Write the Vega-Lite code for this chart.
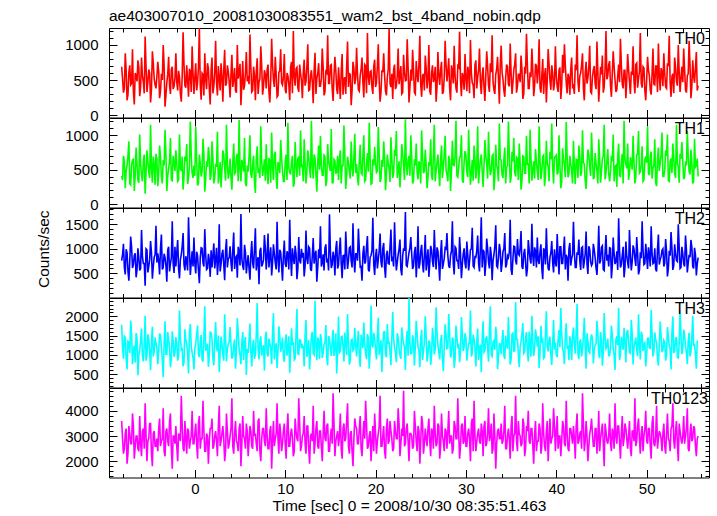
{
"$schema": "https://vega.github.io/schema/vega-lite/v6.json",
"background": "white",
"padding": {"left": 35, "top": 8, "right": 8, "bottom": 2},
"spacing": 0,
"bounds": "flush",
"config": {
  "view": {"stroke": "#000", "strokeWidth": 1},
  "font": "Liberation Sans",
  "concat": {"spacing": 0},
  "axis": {"domain": false, "grid": false, "ticks": true, "tickColor": "#000", "tickWidth": 1, "labelColor": "#000", "labelFont": "Liberation Sans", "labelFontSize": 15, "titleFont": "Liberation Sans", "titleFontSize": 15.5, "titleFontWeight": "normal", "titleColor": "#000", "labelOverlap": false, "labelFlush": false}
},
"datasets": {"lc": [
{"t":-8.1,"th0":690,"th1":410,"th2":760,"th3":1780,"th0123":3600},
{"t":-7.9,"th0":320,"th1":700,"th2":1100,"th3":900,"th0123":2300},
{"t":-7.7,"th0":880,"th1":230,"th2":480,"th3":1450,"th0123":3100},
{"t":-7.5,"th0":210,"th1":560,"th2":920,"th3":620,"th0123":1900},
{"t":-7.3,"th0":610,"th1":910,"th2":350,"th3":1320,"th0123":3400},
{"t":-7.1,"th0":430,"th1":280,"th2":1250,"th3":1890,"th0123":2700},
{"t":-6.9,"th0":940,"th1":640,"th2":610,"th3":760,"th0123":3900},
{"t":-6.7,"th0":150,"th1":190,"th2":870,"th3":1240,"th0123":2100},
{"t":-6.5,"th0":560,"th1":820,"th2":420,"th3":1560,"th0123":3000},
{"t":-6.3,"th0":780,"th1":350,"th2":1010,"th3":470,"th0123":2500},
{"t":-6.1,"th0":270,"th1":1010,"th2":560,"th3":1120,"th0123":3800},
{"t":-5.9,"th0":820,"th1":420,"th2":1380,"th3":1680,"th0123":2200},
{"t":-5.7,"th0":470,"th1":620,"th2":700,"th3":830,"th0123":3300},
{"t":-5.5,"th0":1120,"th1":150,"th2":250,"th3":2010,"th0123":4300},
{"t":-5.3,"th0":330,"th1":780,"th2":980,"th3":990,"th0123":2000},
{"t":-5.1,"th0":650,"th1":470,"th2":640,"th3":1400,"th0123":2900},
{"t":-4.9,"th0":180,"th1":1150,"th2":1160,"th3":600,"th0123":3500},
{"t":-4.7,"th0":910,"th1":310,"th2":390,"th3":1730,"th0123":1800},
{"t":-4.5,"th0":520,"th1":560,"th2":830,"th3":1080,"th0123":3200},
{"t":-4.3,"th0":380,"th1":730,"th2":1470,"th3":1300,"th0123":2600},
{"t":-4.1,"th0":760,"th1":260,"th2":910,"th3":760,"th0123":2400},
{"t":-3.9,"th0":240,"th1":850,"th2":480,"th3":1550,"th0123":3700},
{"t":-3.7,"th0":590,"th1":400,"th2":1290,"th3":1190,"th0123":2800},
{"t":-3.5,"th0":1000,"th1":640,"th2":620,"th3":420,"th0123":4100},
{"t":-3.3,"th0":120,"th1":1080,"th2":820,"th3":1870,"th0123":2200},
{"t":-3.1,"th0":470,"th1":190,"th2":330,"th3":1020,"th0123":3300},
{"t":-2.9,"th0":830,"th1":520,"th2":1040,"th3":1390,"th0123":2600},
{"t":-2.7,"th0":300,"th1":960,"th2":700,"th3":680,"th0123":3900},
{"t":-2.5,"th0":690,"th1":340,"th2":1560,"th3":1610,"th0123":1700},
{"t":-2.3,"th0":410,"th1":600,"th2":510,"th3":950,"th0123":3000},
{"t":-2.1,"th0":880,"th1":780,"th2":640,"th3":1460,"th0123":3400},
{"t":-1.9,"th0":350,"th1":330,"th2":1180,"th3":850,"th0123":2000},
{"t":-1.7,"th0":540,"th1":1010,"th2":400,"th3":2150,"th0123":3000},
{"t":-1.5,"th0":190,"th1":480,"th2":880,"th3":1130,"th0123":4600},
{"t":-1.3,"th0":1180,"th1":210,"th2":1320,"th3":700,"th0123":2500},
{"t":-1.1,"th0":420,"th1":690,"th2":560,"th3":1660,"th0123":3600},
{"t":-0.9,"th0":710,"th1":870,"th2":740,"th3":1280,"th0123":2300},
{"t":-0.7,"th0":260,"th1":380,"th2":1640,"th3":520,"th0123":3200},
{"t":-0.5,"th0":620,"th1":1200,"th2":470,"th3":1800,"th0123":2800},
{"t":-0.3,"th0":980,"th1":450,"th2":950,"th3":1050,"th0123":4000},
{"t":-0.1,"th0":300,"th1":560,"th2":1230,"th3":620,"th0123":2700},
{"t":0.1,"th0":740,"th1":1120,"th2":500,"th3":1300,"th0123":3500},
{"t":0.3,"th0":460,"th1":270,"th2":860,"th3":1760,"th0123":2100},
{"t":0.5,"th0":1240,"th1":720,"th2":300,"th3":940,"th0123":3800},
{"t":0.7,"th0":220,"th1":400,"th2":1020,"th3":1520,"th0123":2900},
{"t":0.9,"th0":580,"th1":950,"th2":720,"th3":820,"th0123":4400},
{"t":1.1,"th0":880,"th1":180,"th2":1400,"th3":2260,"th0123":2400},
{"t":1.3,"th0":370,"th1":620,"th2":580,"th3":1170,"th0123":3100},
{"t":1.5,"th0":660,"th1":830,"th2":900,"th3":690,"th0123":1900},
{"t":1.7,"th0":150,"th1":350,"th2":430,"th3":1590,"th0123":3300},
{"t":1.9,"th0":820,"th1":910,"th2":620,"th3":1400,"th0123":3700},
{"t":2.1,"th0":410,"th1":300,"th2":1110,"th3":730,"th0123":2600},
{"t":2.3,"th0":1060,"th1":590,"th2":780,"th3":1850,"th0123":3200},
{"t":2.5,"th0":280,"th1":1050,"th2":470,"th3":1090,"th0123":2200},
{"t":2.7,"th0":530,"th1":430,"th2":1500,"th3":560,"th0123":4200},
{"t":2.9,"th0":740,"th1":240,"th2":690,"th3":1470,"th0123":2800},
{"t":3.1,"th0":190,"th1":780,"th2":980,"th3":1000,"th0123":3400},
{"t":3.3,"th0":930,"th1":520,"th2":360,"th3":2050,"th0123":2000},
{"t":3.5,"th0":450,"th1":1150,"th2":1200,"th3":830,"th0123":3900},
{"t":3.7,"th0":620,"th1":370,"th2":800,"th3":1280,"th0123":2500},
{"t":3.9,"th0":250,"th1":660,"th2":1050,"th3":1720,"th0123":3000},
{"t":4.1,"th0":860,"th1":210,"th2":540,"th3":900,"th0123":4500},
{"t":4.3,"th0":510,"th1":880,"th2":1330,"th3":1250,"th0123":2300},
{"t":4.5,"th0":350,"th1":460,"th2":820,"th3":640,"th0123":3600},
{"t":4.7,"th0":1000,"th1":730,"th2":410,"th3":1950,"th0123":2700},
{"t":4.9,"th0":600,"th1":1220,"th2":940,"th3":1150,"th0123":3300},
{"t":5.1,"th0":140,"th1":330,"th2":1710,"th3":760,"th0123":1800},
{"t":5.3,"th0":770,"th1":590,"th2":650,"th3":1590,"th0123":3800},
{"t":5.5,"th0":420,"th1":960,"th2":1080,"th3":1340,"th0123":2900},
{"t":5.7,"th0":900,"th1":260,"th2":500,"th3":480,"th0123":3500},
{"t":5.9,"th0":560,"th1":470,"th2":870,"th3":1050,"th0123":2200},
{"t":6.1,"th0":1150,"th1":1000,"th2":370,"th3":1810,"th0123":3400},
{"t":6.3,"th0":330,"th1":380,"th2":1160,"th3":700,"th0123":2600},
{"t":6.5,"th0":690,"th1":700,"th2":600,"th3":1390,"th0123":4000},
{"t":6.7,"th0":210,"th1":160,"th2":1420,"th3":1010,"th0123":3100},
{"t":6.9,"th0":810,"th1":840,"th2":760,"th3":2340,"th0123":2400},
{"t":7.1,"th0":470,"th1":520,"th2":280,"th3":880,"th0123":3700},
{"t":7.3,"th0":980,"th1":1130,"th2":1020,"th3":1480,"th0123":2000},
{"t":7.5,"th0":290,"th1":410,"th2":690,"th3":1170,"th0123":3300},
{"t":7.7,"th0":640,"th1":650,"th2":1280,"th3":590,"th0123":2800},
{"t":7.9,"th0":380,"th1":870,"th2":580,"th3":1600,"th0123":4100},
{"t":8.1,"th0":720,"th1":290,"th2":1310,"th3":960,"th0123":2500},
{"t":8.3,"th0":180,"th1":620,"th2":840,"th3":1300,"th0123":3200},
{"t":8.5,"th0":1090,"th1":1040,"th2":460,"th3":760,"th0123":1700},
{"t":8.7,"th0":500,"th1":350,"th2":1090,"th3":2080,"th0123":3600},
{"t":8.9,"th0":830,"th1":760,"th2":720,"th3":1200,"th0123":2900},
{"t":9.1,"th0":260,"th1":220,"th2":1550,"th3":660,"th0123":4300},
{"t":9.3,"th0":610,"th1":570,"th2":520,"th3":1740,"th0123":2300},
{"t":9.5,"th0":940,"th1":930,"th2":930,"th3":1080,"th0123":3100},
{"t":9.7,"th0":430,"th1":480,"th2":350,"th3":1450,"th0123":2700},
{"t":9.9,"th0":870,"th1":330,"th2":1170,"th3":820,"th0123":3500},
{"t":10.1,"th0":310,"th1":720,"th2":630,"th3":1530,"th0123":2100},
{"t":10.3,"th0":560,"th1":1180,"th2":890,"th3":1170,"th0123":3900},
{"t":10.5,"th0":210,"th1":450,"th2":1590,"th3":540,"th0123":2600},
{"t":10.7,"th0":760,"th1":610,"th2":450,"th3":1690,"th0123":3300},
{"t":10.9,"th0":1200,"th1":250,"th2":810,"th3":1330,"th0123":2200},
{"t":11.1,"th0":420,"th1":900,"th2":1060,"th3":900,"th0123":3700},
{"t":11.3,"th0":680,"th1":390,"th2":380,"th3":2190,"th0123":2900},
{"t":11.5,"th0":330,"th1":690,"th2":1240,"th3":1010,"th0123":4500},
{"t":11.7,"th0":590,"th1":1070,"th2":700,"th3":1380,"th0123":2400},
{"t":11.9,"th0":240,"th1":560,"th2":820,"th3":1250,"th0123":3000},
{"t":12.1,"th0":790,"th1":940,"th2":440,"th3":700,"th0123":3800},
{"t":12.3,"th0":480,"th1":300,"th2":1370,"th3":1900,"th0123":2300},
{"t":12.5,"th0":1010,"th1":780,"th2":690,"th3":1120,"th0123":3400},
{"t":12.7,"th0":360,"th1":500,"th2":1010,"th3":620,"th0123":1900},
{"t":12.9,"th0":640,"th1":1210,"th2":550,"th3":1480,"th0123":3100},
{"t":13.1,"th0":170,"th1":370,"th2":1220,"th3":1040,"th0123":4200},
{"t":13.3,"th0":890,"th1":660,"th2":880,"th3":2400,"th0123":2700},
{"t":13.5,"th0":520,"th1":180,"th2":330,"th3":860,"th0123":3600},
{"t":13.7,"th0":740,"th1":850,"th2":990,"th3":1350,"th0123":2500},
{"t":13.9,"th0":410,"th1":990,"th2":1460,"th3":1540,"th0123":3200},
{"t":14.1,"th0":950,"th1":420,"th2":720,"th3":920,"th0123":2000},
{"t":14.3,"th0":280,"th1":710,"th2":560,"th3":1270,"th0123":4000},
{"t":14.5,"th0":620,"th1":260,"th2":1090,"th3":1770,"th0123":2800},
{"t":14.7,"th0":1140,"th1":870,"th2":800,"th3":730,"th0123":3500},
{"t":14.9,"th0":450,"th1":540,"th2":1700,"th3":1410,"th0123":2400},
{"t":15.1,"th0":720,"th1":1090,"th2":610,"th3":970,"th0123":3300},
{"t":15.3,"th0":200,"th1":310,"th2":940,"th3":1650,"th0123":4700},
{"t":15.5,"th0":830,"th1":630,"th2":460,"th3":1180,"th0123":2200},
{"t":15.7,"th0":370,"th1":470,"th2":1160,"th3":520,"th0123":3000},
{"t":15.9,"th0":680,"th1":350,"th2":670,"th3":1990,"th0123":2600},
{"t":16.1,"th0":230,"th1":780,"th2":1230,"th3":1100,"th0123":3900},
{"t":16.3,"th0":870,"th1":560,"th2":400,"th3":1480,"th0123":2100},
{"t":16.5,"th0":510,"th1":1140,"th2":870,"th3":830,"th0123":3500},
{"t":16.7,"th0":300,"th1":220,"th2":1350,"th3":1260,"th0123":2900},
{"t":16.9,"th0":1050,"th1":690,"th2":590,"th3":2060,"th0123":4300},
{"t":17.1,"th0":590,"th1":470,"th2":1020,"th3":750,"th0123":2300},
{"t":17.3,"th0":140,"th1":910,"th2":760,"th3":1380,"th0123":3200},
{"t":17.5,"th0":760,"th1":400,"th2":1520,"th3":1110,"th0123":1800},
{"t":17.7,"th0":440,"th1":1020,"th2":520,"th3":1700,"th0123":3700},
{"t":17.9,"th0":960,"th1":580,"th2":900,"th3":960,"th0123":3300},
{"t":18.1,"th0":360,"th1":270,"th2":1410,"th3":1620,"th0123":2700},
{"t":18.3,"th0":570,"th1":860,"th2":630,"th3":690,"th0123":3800},
{"t":18.5,"th0":820,"th1":430,"th2":350,"th3":1350,"th0123":2200},
{"t":18.7,"th0":250,"th1":1000,"th2":1060,"th3":1840,"th0123":3600},
{"t":18.9,"th0":700,"th1":350,"th2":740,"th3":1030,"th0123":4400},
{"t":19.1,"th0":1170,"th1":740,"th2":1260,"th3":1540,"th0123":2500},
{"t":19.3,"th0":430,"th1":1180,"th2":540,"th3":640,"th0123":3000},
{"t":19.5,"th0":630,"th1":290,"th2":870,"th3":2280,"th0123":2000},
{"t":19.7,"th0":300,"th1":650,"th2":1630,"th3":1190,"th0123":3400},
{"t":19.9,"th0":790,"th1":830,"th2":470,"th3":1440,"th0123":3900},
{"t":20.1,"th0":460,"th1":460,"th2":1000,"th3":880,"th0123":2300},
{"t":20.3,"th0":1010,"th1":1120,"th2":780,"th3":1960,"th0123":3100},
{"t":20.5,"th0":190,"th1":320,"th2":1310,"th3":1170,"th0123":4600},
{"t":20.7,"th0":640,"th1":640,"th2":620,"th3":560,"th0123":2600},
{"t":20.9,"th0":880,"th1":910,"th2":1120,"th3":1590,"th0123":3400},
{"t":21.1,"th0":340,"th1":200,"th2":410,"th3":1010,"th0123":2100},
{"t":21.3,"th0":540,"th1":720,"th2":960,"th3":1800,"th0123":3700},
{"t":21.5,"th0":1230,"th1":510,"th2":690,"th3":1320,"th0123":2800},
{"t":21.7,"th0":400,"th1":970,"th2":1390,"th3":730,"th0123":3200},
{"t":21.9,"th0":230,"th1":380,"th2":810,"th3":2110,"th0123":2400},
{"t":22.1,"th0":720,"th1":790,"th2":1540,"th3":1190,"th0123":3600},
{"t":22.3,"th0":410,"th1":1060,"th2":560,"th3":810,"th0123":2900},
{"t":22.5,"th0":950,"th1":480,"th2":880,"th3":1450,"th0123":4100},
{"t":22.7,"th0":560,"th1":240,"th2":1190,"th3":990,"th0123":2200},
{"t":22.9,"th0":300,"th1":870,"th2":460,"th3":1710,"th0123":3300},
{"t":23.1,"th0":860,"th1":560,"th2":1010,"th3":1280,"th0123":4800},
{"t":23.3,"th0":490,"th1":1230,"th2":1750,"th3":610,"th0123":2700},
{"t":23.5,"th0":1080,"th1":420,"th2":640,"th3":1620,"th0123":3500},
{"t":23.7,"th0":180,"th1":700,"th2":920,"th3":2470,"th0123":2000},
{"t":23.9,"th0":650,"th1":1000,"th2":1240,"th3":1030,"th0123":3100},
{"t":24.1,"th0":930,"th1":300,"th2":590,"th3":1510,"th0123":2500},
{"t":24.3,"th0":320,"th1":650,"th2":930,"th3":720,"th0123":4000},
{"t":24.5,"th0":770,"th1":880,"th2":420,"th3":1880,"th0123":2800},
{"t":24.7,"th0":470,"th1":360,"th2":1460,"th3":1220,"th0123":3400},
{"t":24.9,"th0":1130,"th1":580,"th2":700,"th3":680,"th0123":1900},
{"t":25.1,"th0":260,"th1":1070,"th2":1080,"th3":1650,"th0123":3800},
{"t":25.3,"th0":590,"th1":450,"th2":520,"th3":1090,"th0123":2300},
{"t":25.5,"th0":850,"th1":790,"th2":1280,"th3":2000,"th0123":3300},
{"t":25.7,"th0":380,"th1":230,"th2":760,"th3":830,"th0123":2600},
{"t":25.9,"th0":1000,"th1":610,"th2":430,"th3":1370,"th0123":3700},
{"t":26.1,"th0":290,"th1":940,"th2":1060,"th3":740,"th0123":2200},
{"t":26.3,"th0":710,"th1":350,"th2":740,"th3":1700,"th0123":3200},
{"t":26.5,"th0":520,"th1":1150,"th2":1380,"th3":1010,"th0123":4200},
{"t":26.7,"th0":190,"th1":480,"th2":580,"th3":2230,"th0123":2600},
{"t":26.9,"th0":900,"th1":720,"th2":960,"th3":1260,"th0123":3500},
{"t":27.1,"th0":430,"th1":260,"th2":350,"th3":880,"th0123":2100},
{"t":27.3,"th0":760,"th1":850,"th2":1180,"th3":1520,"th0123":3900},
{"t":27.5,"th0":330,"th1":540,"th2":690,"th3":580,"th0123":2800},
{"t":27.7,"th0":1060,"th1":990,"th2":1020,"th3":1790,"th0123":3300},
{"t":27.9,"th0":480,"th1":420,"th2":1320,"th3":1160,"th0123":2500},
{"t":28.1,"th0":810,"th1":700,"th2":650,"th3":2060,"th0123":4000},
{"t":28.3,"th0":210,"th1":190,"th2":870,"th3":930,"th0123":3000},
{"t":28.5,"th0":630,"th1":920,"th2":1560,"th3":1450,"th0123":2300},
{"t":28.7,"th0":990,"th1":560,"th2":480,"th3":670,"th0123":3600},
{"t":28.9,"th0":380,"th1":1210,"th2":1010,"th3":1760,"th0123":2900},
{"t":29.1,"th0":700,"th1":390,"th2":760,"th3":1210,"th0123":4500},
{"t":29.3,"th0":1190,"th1":680,"th2":1240,"th3":810,"th0123":2100},
{"t":29.5,"th0":270,"th1":1000,"th2":400,"th3":1980,"th0123":3400},
{"t":29.7,"th0":550,"th1":310,"th2":890,"th3":1100,"th0123":2700},
{"t":29.9,"th0":870,"th1":770,"th2":710,"th3":1560,"th0123":3800},
{"t":30.1,"th0":340,"th1":470,"th2":1150,"th3":850,"th0123":2600},
{"t":30.3,"th0":620,"th1":1080,"th2":560,"th3":1300,"th0123":3300},
{"t":30.5,"th0":1070,"th1":280,"th2":980,"th3":2150,"th0123":2000},
{"t":30.7,"th0":460,"th1":640,"th2":1430,"th3":1040,"th0123":3700},
{"t":30.9,"th0":240,"th1":850,"th2":620,"th3":1410,"th0123":4400},
{"t":31.1,"th0":780,"th1":370,"th2":830,"th3":700,"th0123":2400},
{"t":31.3,"th0":540,"th1":1130,"th2":1270,"th3":1680,"th0123":3100},
{"t":31.5,"th0":950,"th1":500,"th2":540,"th3":1170,"th0123":2800},
{"t":31.7,"th0":300,"th1":720,"th2":1640,"th3":550,"th0123":3500},
{"t":31.9,"th0":680,"th1":250,"th2":980,"th3":1870,"th0123":2200},
{"t":32.1,"th0":200,"th1":930,"th2":450,"th3":1110,"th0123":3600},
{"t":32.3,"th0":910,"th1":590,"th2":1210,"th3":1480,"th0123":2700},
{"t":32.5,"th0":420,"th1":1050,"th2":730,"th3":820,"th0123":4100},
{"t":32.7,"th0":740,"th1":420,"th2":1040,"th3":2260,"th0123":3000},
{"t":32.9,"th0":1140,"th1":700,"th2":360,"th3":960,"th0123":2300},
{"t":33.1,"th0":360,"th1":200,"th2":880,"th3":1370,"th0123":3900},
{"t":33.3,"th0":580,"th1":860,"th2":1480,"th3":1730,"th0123":1700},
{"t":33.5,"th0":830,"th1":490,"th2":620,"th3":630,"th0123":3200},
{"t":33.7,"th0":160,"th1":1170,"th2":1100,"th3":1290,"th0123":2900},
{"t":33.9,"th0":990,"th1":640,"th2":530,"th3":1020,"th0123":3500},
{"t":34.1,"th0":510,"th1":380,"th2":940,"th3":1640,"th0123":2800},
{"t":34.3,"th0":260,"th1":820,"th2":1320,"th3":890,"th0123":4200},
{"t":34.5,"th0":720,"th1":530,"th2":680,"th3":1250,"th0123":2500},
{"t":34.7,"th0":440,"th1":1200,"th2":820,"th3":1980,"th0123":3300},
{"t":34.9,"th0":1020,"th1":310,"th2":1590,"th3":750,"th0123":2100},
{"t":35.1,"th0":300,"th1":760,"th2":470,"th3":1530,"th0123":3800},
{"t":35.3,"th0":650,"th1":960,"th2":1050,"th3":1100,"th0123":3000},
{"t":35.5,"th0":880,"th1":400,"th2":760,"th3":2370,"th0123":4600},
{"t":35.7,"th0":410,"th1":660,"th2":1200,"th3":1400,"th0123":2400},
{"t":35.9,"th0":580,"th1":880,"th2":870,"th3":680,"th0123":3100},
{"t":36.1,"th0":850,"th1":210,"th2":1360,"th3":1350,"th0123":2600},
{"t":36.3,"th0":230,"th1":700,"th2":590,"th3":1820,"th0123":3700},
{"t":36.5,"th0":690,"th1":450,"th2":1000,"th3":1080,"th0123":2200},
{"t":36.7,"th0":1160,"th1":990,"th2":440,"th3":1590,"th0123":3400},
{"t":36.9,"th0":380,"th1":580,"th2":1180,"th3":830,"th0123":4000},
{"t":37.1,"th0":610,"th1":1080,"th2":790,"th3":1290,"th0123":2700},
{"t":37.3,"th0":950,"th1":340,"th2":1510,"th3":2010,"th0123":3300},
{"t":37.5,"th0":270,"th1":620,"th2":650,"th3":970,"th0123":1900},
{"t":37.7,"th0":730,"th1":800,"th2":960,"th3":1660,"th0123":3600},
{"t":37.9,"th0":450,"th1":470,"th2":1230,"th3":1210,"th0123":2800},
{"t":38.1,"th0":1080,"th1":1130,"th2":690,"th3":660,"th0123":3500},
{"t":38.3,"th0":320,"th1":360,"th2":1090,"th3":1750,"th0123":2300},
{"t":38.5,"th0":800,"th1":690,"th2":380,"th3":1390,"th0123":4300},
{"t":38.7,"th0":560,"th1":260,"th2":960,"th3":940,"th0123":2600},
{"t":38.9,"th0":180,"th1":920,"th2":1420,"th3":2130,"th0123":3200},
{"t":39.1,"th0":940,"th1":540,"th2":600,"th3":1090,"th0123":2000},
{"t":39.3,"th0":490,"th1":760,"th2":830,"th3":1470,"th0123":3700},
{"t":39.5,"th0":710,"th1":1170,"th2":1160,"th3":740,"th0123":2900},
{"t":39.7,"th0":350,"th1":300,"th2":520,"th3":1900,"th0123":4100},
{"t":39.9,"th0":980,"th1":690,"th2":720,"th3":1320,"th0123":2400},
{"t":40.1,"th0":400,"th1":430,"th2":1300,"th3":940,"th0123":3800},
{"t":40.3,"th0":640,"th1":1000,"th2":480,"th3":1640,"th0123":3000},
{"t":40.5,"th0":230,"th1":230,"th2":1040,"th3":2210,"th0123":2200},
{"t":40.7,"th0":860,"th1":810,"th2":700,"th3":1150,"th0123":3600},
{"t":40.9,"th0":1010,"th1":570,"th2":1250,"th3":760,"th0123":2700},
{"t":41.1,"th0":470,"th1":1190,"th2":880,"th3":1820,"th0123":4400},
{"t":41.3,"th0":590,"th1":390,"th2":350,"th3":1240,"th0123":2500},
{"t":41.5,"th0":290,"th1":700,"th2":1120,"th3":1480,"th0123":3300},
{"t":41.7,"th0":820,"th1":480,"th2":800,"th3":860,"th0123":3000},
{"t":41.9,"th0":420,"th1":920,"th2":1550,"th3":1710,"th0123":3400},
{"t":42.1,"th0":720,"th1":290,"th2":620,"th3":1030,"th0123":2100},
{"t":42.3,"th0":1140,"th1":640,"th2":930,"th3":2320,"th0123":3900},
{"t":42.5,"th0":330,"th1":850,"th2":1190,"th3":890,"th0123":2800},
{"t":42.7,"th0":600,"th1":410,"th2":570,"th3":1400,"th0123":3200},
{"t":42.9,"th0":880,"th1":1070,"th2":1040,"th3":1120,"th0123":4700},
{"t":43.1,"th0":210,"th1":580,"th2":740,"th3":1960,"th0123":2400},
{"t":43.3,"th0":760,"th1":220,"th2":1350,"th3":640,"th0123":3600},
{"t":43.5,"th0":530,"th1":790,"th2":490,"th3":1350,"th0123":2000},
{"t":43.7,"th0":990,"th1":540,"th2":990,"th3":1050,"th0123":3100},
{"t":43.9,"th0":310,"th1":1040,"th2":660,"th3":1530,"th0123":3700},
{"t":44.1,"th0":640,"th1":360,"th2":1100,"th3":780,"th0123":2600},
{"t":44.3,"th0":450,"th1":740,"th2":820,"th3":1260,"th0123":3300},
{"t":44.5,"th0":1050,"th1":480,"th2":470,"th3":1880,"th0123":2300},
{"t":44.7,"th0":190,"th1":940,"th2":1470,"th3":1000,"th0123":4000},
{"t":44.9,"th0":690,"th1":310,"th2":760,"th3":1590,"th0123":2900},
{"t":45.1,"th0":850,"th1":660,"th2":1060,"th3":720,"th0123":3500},
{"t":45.3,"th0":400,"th1":1150,"th2":560,"th3":2080,"th0123":1800},
{"t":45.5,"th0":1200,"th1":450,"th2":1280,"th3":1160,"th0123":3200},
{"t":45.7,"th0":560,"th1":800,"th2":880,"th3":1420,"th0123":2700},
{"t":45.9,"th0":770,"th1":330,"th2":1020,"th3":980,"th0123":3900},
{"t":46.1,"th0":260,"th1":700,"th2":400,"th3":1760,"th0123":2400},
{"t":46.3,"th0":910,"th1":1010,"th2":1230,"th3":1150,"th0123":3100},
{"t":46.5,"th0":500,"th1":540,"th2":690,"th3":610,"th0123":4300},
{"t":46.7,"th0":360,"th1":250,"th2":950,"th3":1480,"th0123":2700},
{"t":46.9,"th0":720,"th1":880,"th2":1620,"th3":2220,"th0123":3400},
{"t":47.1,"th0":1090,"th1":400,"th2":620,"th3":990,"th0123":2100},
{"t":47.3,"th0":440,"th1":730,"th2":870,"th3":1340,"th0123":3800},
{"t":47.5,"th0":640,"th1":1210,"th2":420,"th3":1700,"th0123":2900},
{"t":47.7,"th0":240,"th1":580,"th2":1150,"th3":800,"th0123":3300},
{"t":47.9,"th0":870,"th1":880,"th2":720,"th3":1640,"th0123":2500},
{"t":48.1,"th0":470,"th1":450,"th2":1380,"th3":1060,"th0123":3600},
{"t":48.3,"th0":620,"th1":610,"th2":560,"th3":1910,"th0123":2200},
{"t":48.5,"th0":980,"th1":990,"th2":1070,"th3":750,"th0123":3200},
{"t":48.7,"th0":310,"th1":300,"th2":800,"th3":1330,"th0123":4500},
{"t":48.9,"th0":740,"th1":720,"th2":1240,"th3":1120,"th0123":2800},
{"t":49.1,"th0":520,"th1":1060,"th2":480,"th3":2050,"th0123":3700},
{"t":49.3,"th0":1170,"th1":470,"th2":930,"th3":880,"th0123":2300},
{"t":49.5,"th0":390,"th1":840,"th2":1560,"th3":1520,"th0123":3400},
{"t":49.7,"th0":670,"th1":350,"th2":680,"th3":1230,"th0123":3000},
{"t":49.9,"th0":210,"th1":690,"th2":1100,"th3":700,"th0123":4000},
{"t":50.1,"th0":830,"th1":1130,"th2":590,"th3":1430,"th0123":2700},
{"t":50.3,"th0":560,"th1":420,"th2":880,"th3":1180,"th0123":3300},
{"t":50.5,"th0":290,"th1":760,"th2":1460,"th3":2160,"th0123":2100},
{"t":50.7,"th0":950,"th1":520,"th2":700,"th3":960,"th0123":3800},
{"t":50.9,"th0":430,"th1":940,"th2":1010,"th3":1580,"th0123":2600},
{"t":51.1,"th0":700,"th1":260,"th2":540,"th3":1290,"th0123":4200},
{"t":51.3,"th0":1020,"th1":820,"th2":1290,"th3":720,"th0123":2900},
{"t":51.5,"th0":350,"th1":590,"th2":780,"th3":1860,"th0123":3100},
{"t":51.7,"th0":610,"th1":1040,"th2":970,"th3":1070,"th0123":2400},
{"t":51.9,"th0":880,"th1":400,"th2":640,"th3":1380,"th0123":3500},
{"t":52.1,"th0":400,"th1":780,"th2":1200,"th3":850,"th0123":2300},
{"t":52.3,"th0":740,"th1":1010,"th2":440,"th3":1720,"th0123":3900},
{"t":52.5,"th0":1130,"th1":330,"th2":960,"th3":1240,"th0123":2800},
{"t":52.7,"th0":260,"th1":660,"th2":1340,"th3":620,"th0123":3300},
{"t":52.9,"th0":590,"th1":880,"th2":570,"th3":1990,"th0123":4300},
{"t":53.1,"th0":820,"th1":450,"th2":1090,"th3":1100,"th0123":2500},
{"t":53.3,"th0":480,"th1":1150,"th2":760,"th3":1460,"th0123":3600},
{"t":53.5,"th0":1000,"th1":540,"th2":1500,"th3":920,"th0123":2000},
{"t":53.7,"th0":330,"th1":730,"th2":600,"th3":2180,"th0123":3200},
{"t":53.9,"th0":690,"th1":900,"th2":1040,"th3":1020,"th0123":2700},
{"t":54.1,"th0":950,"th1":360,"th2":690,"th3":1650,"th0123":3800},
{"t":54.3,"th0":360,"th1":620,"th2":1270,"th3":1230,"th0123":3000},
{"t":54.5,"th0":560,"th1":1060,"th2":520,"th3":760,"th0123":4100},
{"t":54.7,"th0":1060,"th1":470,"th2":880,"th3":1570,"th0123":2400},
{"t":54.9,"th0":240,"th1":790,"th2":1180,"th3":1080,"th0123":3500},
{"t":55.1,"th0":780,"th1":300,"th2":640,"th3":2010,"th0123":2900},
{"t":55.3,"th0":460,"th1":950,"th2":1020,"th3":1290,"th0123":3300},
{"t":55.5,"th0":900,"th1":560,"th2":460,"th3":640,"th0123":2200},
{"t":55.7,"th0":420,"th1":400,"th2":820,"th3":1360,"th0123":3000},
{"t":-8.0,"th0":520,"th1":350,"th2":880,"th3":1200,"th0123":2900},
{"t":-7.8,"th0":380,"th1":620,"th2":620,"th3":1480,"th0123":2500},
{"t":-7.6,"th0":640,"th1":480,"th2":990,"th3":900,"th0123":3300},
{"t":-7.4,"th0":290,"th1":700,"th2":540,"th3":1350,"th0123":2300},
{"t":-7.2,"th0":710,"th1":300,"th2":760,"th3":1050,"th0123":3100},
{"t":-7.0,"th0":450,"th1":560,"th2":1030,"th3":1560,"th0123":2700},
{"t":-6.8,"th0":330,"th1":650,"th2":680,"th3":1150,"th0123":3400},
{"t":-6.6,"th0":600,"th1":420,"th2":910,"th3":800,"th0123":2600},
{"t":-6.4,"th0":480,"th1":590,"th2":570,"th3":1420,"th0123":3000},
{"t":-6.2,"th0":680,"th1":310,"th2":820,"th3":1000,"th0123":2400},
{"t":-6.0,"th0":400,"th1":580,"th2":600,"th3":1380,"th0123":2700},
{"t":-5.8,"th0":560,"th1":330,"th2":840,"th3":980,"th0123":3200},
{"t":-5.6,"th0":310,"th1":720,"th2":700,"th3":1250,"th0123":2500},
{"t":-5.4,"th0":690,"th1":460,"th2":1000,"th3":850,"th0123":3000},
{"t":-5.2,"th0":470,"th1":620,"th2":520,"th3":1530,"th0123":2800},
{"t":-5.0,"th0":600,"th1":380,"th2":780,"th3":1100,"th0123":3500},
{"t":-4.8,"th0":360,"th1":530,"th2":930,"th3":1320,"th0123":2300},
{"t":-4.6,"th0":740,"th1":690,"th2":640,"th3":960,"th0123":3100},
{"t":-4.4,"th0":430,"th1":280,"th2":880,"th3":1450,"th0123":2600},
{"t":-4.2,"th0":550,"th1":650,"th2":720,"th3":1180,"th0123":2900},
{"t":-4.0,"th0":620,"th1":440,"th2":760,"th3":1100,"th0123":3300},
{"t":-3.8,"th0":340,"th1":680,"th2":1020,"th3":1500,"th0123":2600},
{"t":-3.6,"th0":500,"th1":300,"th2":580,"th3":880,"th0123":2900},
{"t":-3.4,"th0":700,"th1":560,"th2":900,"th3":1280,"th0123":2400},
{"t":-3.2,"th0":280,"th1":730,"th2":660,"th3":1020,"th0123":3200},
{"t":-3.0,"th0":580,"th1":410,"th2":980,"th3":1590,"th0123":2800},
{"t":-2.8,"th0":420,"th1":610,"th2":540,"th3":1200,"th0123":3600},
{"t":-2.6,"th0":650,"th1":350,"th2":820,"th3":900,"th0123":2500},
{"t":-2.4,"th0":370,"th1":700,"th2":700,"th3":1350,"th0123":3000},
{"t":-2.2,"th0":530,"th1":480,"th2":1040,"th3":1060,"th0123":2700},
{"t":-2.0,"th0":470,"th1":600,"th2":920,"th3":1300,"th0123":2600},
{"t":-1.8,"th0":630,"th1":350,"th2":600,"th3":960,"th0123":3100},
{"t":-1.6,"th0":300,"th1":520,"th2":780,"th3":1450,"th0123":2800},
{"t":-1.4,"th0":560,"th1":690,"th2":1050,"th3":1150,"th0123":3400},
{"t":-1.2,"th0":720,"th1":400,"th2":680,"th3":820,"th0123":2400},
{"t":-1.0,"th0":390,"th1":620,"th2":850,"th3":1400,"th0123":2900},
{"t":-0.8,"th0":500,"th1":290,"th2":560,"th3":1050,"th0123":3300},
{"t":-0.6,"th0":660,"th1":560,"th2":990,"th3":1560,"th0123":2500},
{"t":-0.4,"th0":330,"th1":710,"th2":720,"th3":1220,"th0123":3000},
{"t":-0.2,"th0":590,"th1":380,"th2":640,"th3":930,"th0123":2700},
{"t":0.0,"th0":540,"th1":410,"th2":700,"th3":1170,"th0123":3100},
{"t":0.2,"th0":350,"th1":650,"th2":940,"th3":1520,"th0123":2700},
{"t":0.4,"th0":690,"th1":300,"th2":560,"th3":1010,"th0123":3500},
{"t":0.6,"th0":420,"th1":590,"th2":820,"th3":1330,"th0123":2500},
{"t":0.8,"th0":600,"th1":470,"th2":1010,"th3":890,"th0123":2900},
{"t":1.0,"th0":280,"th1":720,"th2":640,"th3":1440,"th0123":3200},
{"t":1.2,"th0":510,"th1":360,"th2":880,"th3":1110,"th0123":2400},
{"t":1.4,"th0":740,"th1":540,"th2":600,"th3":1290,"th0123":3000},
{"t":1.6,"th0":380,"th1":680,"th2":760,"th3":980,"th0123":2800},
{"t":1.8,"th0":640,"th1":430,"th2":970,"th3":1570,"th0123":3300},
{"t":2.0,"th0":310,"th1":650,"th2":860,"th3":900,"th0123":2500},
{"t":2.2,"th0":600,"th1":380,"th2":600,"th3":1350,"th0123":3000},
{"t":2.4,"th0":460,"th1":540,"th2":1020,"th3":1200,"th0123":2800},
{"t":2.6,"th0":700,"th1":300,"th2":740,"th3":1500,"th0123":3400},
{"t":2.8,"th0":350,"th1":610,"th2":540,"th3":1040,"th0123":2600},
{"t":3.0,"th0":550,"th1":490,"th2":900,"th3":1280,"th0123":3100},
{"t":3.2,"th0":640,"th1":720,"th2":680,"th3":850,"th0123":2900},
{"t":3.4,"th0":420,"th1":340,"th2":960,"th3":1420,"th0123":2400},
{"t":3.6,"th0":710,"th1":580,"th2":620,"th3":1150,"th0123":3200},
{"t":3.8,"th0":480,"th1":460,"th2":820,"th3":1330,"th0123":2700},
{"t":4.0,"th0":580,"th1":390,"th2":720,"th3":1250,"th0123":3300},
{"t":4.2,"th0":400,"th1":600,"th2":980,"th3":960,"th0123":2600},
{"t":4.4,"th0":670,"th1":440,"th2":590,"th3":1400,"th0123":3100},
{"t":4.6,"th0":320,"th1":680,"th2":850,"th3":1100,"th0123":2800},
{"t":4.8,"th0":520,"th1":330,"th2":1040,"th3":1580,"th0123":2400},
{"t":5.0,"th0":730,"th1":520,"th2":660,"th3":1000,"th0123":3500},
{"t":5.2,"th0":450,"th1":640,"th2":800,"th3":1300,"th0123":2700},
{"t":5.4,"th0":360,"th1":470,"th2":570,"th3":870,"th0123":3000},
{"t":5.6,"th0":610,"th1":300,"th2":930,"th3":1460,"th0123":2500},
{"t":5.8,"th0":480,"th1":560,"th2":700,"th3":1150,"th0123":3200},
{"t":6.0,"th0":440,"th1":700,"th2":600,"th3":1390,"th0123":2800},
{"t":6.2,"th0":690,"th1":430,"th2":880,"th3":1060,"th0123":3200},
{"t":6.4,"th0":350,"th1":580,"th2":710,"th3":1230,"th0123":2500},
{"t":6.6,"th0":560,"th1":320,"th2":1000,"th3":900,"th0123":3000},
{"t":6.8,"th0":620,"th1":660,"th2":560,"th3":1520,"th0123":2700},
{"t":7.0,"th0":300,"th1":450,"th2":830,"th3":1170,"th0123":3600},
{"t":7.2,"th0":520,"th1":380,"th2":960,"th3":1340,"th0123":2400},
{"t":7.4,"th0":700,"th1":610,"th2":640,"th3":980,"th0123":2900},
{"t":7.6,"th0":410,"th1":520,"th2":780,"th3":1250,"th0123":3300},
{"t":7.8,"th0":580,"th1":340,"th2":1020,"th3":1450,"th0123":2600},
{"t":8.0,"th0":650,"th1":480,"th2":850,"th3":1040,"th0123":3000},
{"t":8.2,"th0":330,"th1":670,"th2":620,"th3":1420,"th0123":2500},
{"t":8.4,"th0":510,"th1":310,"th2":1030,"th3":1160,"th0123":3400},
{"t":8.6,"th0":720,"th1":560,"th2":720,"th3":1560,"th0123":2800},
{"t":8.8,"th0":400,"th1":720,"th2":900,"th3":880,"th0123":2600},
{"t":9.0,"th0":590,"th1":390,"th2":580,"th3":1300,"th0123":3100},
{"t":9.2,"th0":280,"th1":610,"th2":790,"th3":1080,"th0123":2900},
{"t":9.4,"th0":630,"th1":450,"th2":980,"th3":1470,"th0123":3500},
{"t":9.6,"th0":460,"th1":680,"th2":660,"th3":1210,"th0123":2400},
{"t":9.8,"th0":540,"th1":330,"th2":870,"th3":960,"th0123":3200},
{"t":10.0,"th0":360,"th1":610,"th2":700,"th3":1330,"th0123":2700},
{"t":10.2,"th0":600,"th1":350,"th2":950,"th3":980,"th0123":3300},
{"t":10.4,"th0":440,"th1":530,"th2":580,"th3":1480,"th0123":2600},
{"t":10.6,"th0":680,"th1":440,"th2":840,"th3":1120,"th0123":3100},
{"t":10.8,"th0":310,"th1":700,"th2":1010,"th3":1260,"th0123":2900},
{"t":11.0,"th0":550,"th1":300,"th2":690,"th3":870,"th0123":2400},
{"t":11.2,"th0":660,"th1":580,"th2":900,"th3":1540,"th0123":3200},
{"t":11.4,"th0":390,"th1":660,"th2":600,"th3":1030,"th0123":2800},
{"t":11.6,"th0":720,"th1":410,"th2":770,"th3":1390,"th0123":3500},
{"t":11.8,"th0":490,"th1":550,"th2":1000,"th3":1170,"th0123":2600},
{"t":12.0,"th0":610,"th1":330,"th2":920,"th3":1200,"th0123":3100},
{"t":12.2,"th0":420,"th1":590,"th2":650,"th3":1500,"th0123":2700},
{"t":12.4,"th0":700,"th1":470,"th2":800,"th3":950,"th0123":3400},
{"t":12.6,"th0":350,"th1":680,"th2":1040,"th3":1380,"th0123":2500},
{"t":12.8,"th0":560,"th1":380,"th2":590,"th3":1100,"th0123":3000},
{"t":13.0,"th0":470,"th1":560,"th2":870,"th3":1600,"th0123":2800},
{"t":13.2,"th0":640,"th1":720,"th2":700,"th3":1000,"th0123":2300},
{"t":13.4,"th0":300,"th1":430,"th2":960,"th3":1270,"th0123":3300},
{"t":13.6,"th0":590,"th1":600,"th2":620,"th3":1450,"th0123":2600},
{"t":13.8,"th0":410,"th1":500,"th2":810,"th3":890,"th0123":3200},
{"t":14.0,"th0":520,"th1":560,"th2":640,"th3":1420,"th0123":2600},
{"t":14.2,"th0":680,"th1":420,"th2":890,"th3":1050,"th0123":3100},
{"t":14.4,"th0":330,"th1":690,"th2":1020,"th3":1310,"th0123":2900},
{"t":14.6,"th0":600,"th1":350,"th2":720,"th3":900,"th0123":3400},
{"t":14.8,"th0":450,"th1":620,"th2":560,"th3":1490,"th0123":2400},
{"t":15.0,"th0":710,"th1":480,"th2":950,"th3":1180,"th0123":3000},
{"t":15.2,"th0":380,"th1":310,"th2":680,"th3":1360,"th0123":2700},
{"t":15.4,"th0":560,"th1":650,"th2":840,"th3":970,"th0123":3500},
{"t":15.6,"th0":640,"th1":440,"th2":1000,"th3":1550,"th0123":2800},
{"t":15.8,"th0":300,"th1":700,"th2":600,"th3":1100,"th0123":3200},
{"t":16.0,"th0":460,"th1":650,"th2":990,"th3":1060,"th0123":3000},
{"t":16.2,"th0":620,"th1":300,"th2":700,"th3":1460,"th0123":2500},
{"t":16.4,"th0":290,"th1":560,"th2":860,"th3":1210,"th0123":3300},
{"t":16.6,"th0":540,"th1":710,"th2":580,"th3":1580,"th0123":2800},
{"t":16.8,"th0":700,"th1":420,"th2":930,"th3":1000,"th0123":3600},
{"t":17.0,"th0":400,"th1":600,"th2":760,"th3":1330,"th0123":2600},
{"t":17.2,"th0":580,"th1":370,"th2":1040,"th3":860,"th0123":3100},
{"t":17.4,"th0":350,"th1":540,"th2":620,"th3":1400,"th0123":2400},
{"t":17.6,"th0":670,"th1":680,"th2":800,"th3":1150,"th0123":2900},
{"t":17.8,"th0":520,"th1":450,"th2":900,"th3":1270,"th0123":3400},
{"t":18.0,"th0":580,"th1":380,"th2":760,"th3":1350,"th0123":2700},
{"t":18.2,"th0":340,"th1":620,"th2":1000,"th3":960,"th0123":3300},
{"t":18.4,"th0":650,"th1":450,"th2":640,"th3":1520,"th0123":2500},
{"t":18.6,"th0":470,"th1":700,"th2":900,"th3":1170,"th0123":3000},
{"t":18.8,"th0":720,"th1":330,"th2":700,"th3":1290,"th0123":2900},
{"t":19.0,"th0":310,"th1":590,"th2":1050,"th3":890,"th0123":3500},
{"t":19.2,"th0":550,"th1":470,"th2":580,"th3":1440,"th0123":2600},
{"t":19.4,"th0":620,"th1":650,"th2":830,"th3":1060,"th0123":3200},
{"t":19.6,"th0":400,"th1":300,"th2":960,"th3":1250,"th0123":2800},
{"t":19.8,"th0":690,"th1":560,"th2":680,"th3":1570,"th0123":2400},
{"t":20.0,"th0":400,"th1":600,"th2":850,"th3":1120,"th0123":3100},
{"t":20.2,"th0":700,"th1":480,"th2":600,"th3":1480,"th0123":2800},
{"t":20.4,"th0":480,"th1":720,"th2":960,"th3":1000,"th0123":3400},
{"t":20.6,"th0":330,"th1":360,"th2":740,"th3":1380,"th0123":2600},
{"t":20.8,"th0":610,"th1":540,"th2":1010,"th3":1230,"th0123":3000},
{"t":21.0,"th0":560,"th1":680,"th2":620,"th3":1600,"th0123":2400},
{"t":21.2,"th0":280,"th1":420,"th2":880,"th3":940,"th0123":3300},
{"t":21.4,"th0":650,"th1":590,"th2":700,"th3":1310,"th0123":2700},
{"t":21.6,"th0":450,"th1":320,"th2":1040,"th3":1090,"th0123":3600},
{"t":21.8,"th0":590,"th1":660,"th2":780,"th3":1440,"th0123":2900},
{"t":22.0,"th0":650,"th1":450,"th2":640,"th3":1400,"th0123":2500},
{"t":22.2,"th0":370,"th1":700,"th2":930,"th3":1050,"th0123":3200},
{"t":22.4,"th0":560,"th1":380,"th2":720,"th3":1560,"th0123":2900},
{"t":22.6,"th0":440,"th1":620,"th2":1000,"th3":1160,"th0123":3500},
{"t":22.8,"th0":700,"th1":500,"th2":580,"th3":900,"th0123":2700},
{"t":23.0,"th0":320,"th1":730,"th2":860,"th3":1460,"th0123":3000},
{"t":23.2,"th0":610,"th1":350,"th2":960,"th3":1210,"th0123":2600},
{"t":23.4,"th0":500,"th1":580,"th2":660,"th3":1350,"th0123":3300},
{"t":23.6,"th0":680,"th1":640,"th2":790,"th3":980,"th0123":2800},
{"t":23.8,"th0":390,"th1":410,"th2":1020,"th3":1290,"th0123":3100},
{"t":24.0,"th0":490,"th1":690,"th2":900,"th3":1040,"th0123":3000},
{"t":24.2,"th0":640,"th1":340,"th2":650,"th3":1370,"th0123":2600},
{"t":24.4,"th0":300,"th1":560,"th2":1040,"th3":1230,"th0123":3400},
{"t":24.6,"th0":590,"th1":460,"th2":780,"th3":1530,"th0123":2400},
{"t":24.8,"th0":720,"th1":620,"th2":600,"th3":1110,"th0123":3200},
{"t":25.0,"th0":430,"th1":300,"th2":950,"th3":1420,"th0123":2800},
{"t":25.2,"th0":560,"th1":710,"th2":700,"th3":870,"th0123":3500},
{"t":25.4,"th0":350,"th1":480,"th2":880,"th3":1300,"th0123":2700},
{"t":25.6,"th0":670,"th1":570,"th2":560,"th3":1480,"th0123":2900},
{"t":25.8,"th0":510,"th1":390,"th2":990,"th3":1010,"th0123":3300},
{"t":26.0,"th0":340,"th1":560,"th2":720,"th3":1310,"th0123":2800},
{"t":26.2,"th0":600,"th1":410,"th2":980,"th3":990,"th0123":3300},
{"t":26.4,"th0":470,"th1":700,"th2":630,"th3":1450,"th0123":2500},
{"t":26.6,"th0":690,"th1":330,"th2":860,"th3":1140,"th0123":3100},
{"t":26.8,"th0":400,"th1":600,"th2":1030,"th3":1580,"th0123":2700},
{"t":27.0,"th0":570,"th1":460,"th2":680,"th3":1070,"th0123":3400},
{"t":27.2,"th0":650,"th1":650,"th2":920,"th3":1360,"th0123":2600},
{"t":27.4,"th0":300,"th1":380,"th2":590,"th3":930,"th0123":3000},
{"t":27.6,"th0":540,"th1":720,"th2":810,"th3":1220,"th0123":2400},
{"t":27.8,"th0":710,"th1":500,"th2":1000,"th3":1500,"th0123":3200},
{"t":28.0,"th0":620,"th1":330,"th2":860,"th3":1180,"th0123":3200},
{"t":28.2,"th0":380,"th1":640,"th2":610,"th3":1530,"th0123":2700},
{"t":28.4,"th0":710,"th1":480,"th2":950,"th3":1010,"th0123":3000},
{"t":28.6,"th0":450,"th1":570,"th2":700,"th3":1390,"th0123":2500},
{"t":28.8,"th0":560,"th1":700,"th2":1040,"th3":890,"th0123":3400},
{"t":29.0,"th0":320,"th1":410,"th2":760,"th3":1460,"th0123":2900},
{"t":29.2,"th0":680,"th1":540,"th2":590,"th3":1250,"th0123":3100},
{"t":29.4,"th0":490,"th1":690,"th2":900,"th3":1080,"th0123":2600},
{"t":29.6,"th0":600,"th1":350,"th2":680,"th3":1570,"th0123":3500},
{"t":29.8,"th0":360,"th1":610,"th2":1010,"th3":1200,"th0123":2800},
{"t":30.0,"th0":530,"th1":700,"th2":600,"th3":1440,"th0123":2600},
{"t":30.2,"th0":690,"th1":390,"th2":890,"th3":1100,"th0123":3100},
{"t":30.4,"th0":310,"th1":600,"th2":740,"th3":1300,"th0123":2900},
{"t":30.6,"th0":600,"th1":450,"th2":1000,"th3":960,"th0123":3500},
{"t":30.8,"th0":430,"th1":340,"th2":650,"th3":1520,"th0123":2400},
{"t":31.0,"th0":720,"th1":660,"th2":840,"th3":1190,"th0123":3000},
{"t":31.2,"th0":380,"th1":520,"th2":960,"th3":1350,"th0123":2800},
{"t":31.4,"th0":640,"th1":300,"th2":710,"th3":870,"th0123":3300},
{"t":31.6,"th0":470,"th1":640,"th2":1030,"th3":1260,"th0123":2700},
{"t":31.8,"th0":570,"th1":480,"th2":620,"th3":1410,"th0123":3200},
{"t":32.0,"th0":400,"th1":560,"th2":940,"th3":1070,"th0123":3400},
{"t":32.2,"th0":560,"th1":700,"th2":700,"th3":1420,"th0123":2600},
{"t":32.4,"th0":700,"th1":370,"th2":1010,"th3":1220,"th0123":3100},
{"t":32.6,"th0":330,"th1":610,"th2":600,"th3":1580,"th0123":2800},
{"t":32.8,"th0":610,"th1":480,"th2":880,"th3":1000,"th0123":3500},
{"t":33.0,"th0":480,"th1":720,"th2":760,"th3":1330,"th0123":2500},
{"t":33.2,"th0":300,"th1":400,"th2":1050,"th3":1130,"th0123":3000},
{"t":33.4,"th0":650,"th1":570,"th2":650,"th3":1480,"th0123":2700},
{"t":33.6,"th0":520,"th1":330,"th2":820,"th3":940,"th0123":3300},
{"t":33.8,"th0":720,"th1":650,"th2":970,"th3":1280,"th0123":2900},
{"t":34.0,"th0":610,"th1":420,"th2":700,"th3":1370,"th0123":2700},
{"t":34.2,"th0":350,"th1":650,"th2":1000,"th3":990,"th0123":3200},
{"t":34.4,"th0":540,"th1":300,"th2":620,"th3":1500,"th0123":2500},
{"t":34.6,"th0":690,"th1":560,"th2":860,"th3":1160,"th0123":3000},
{"t":34.8,"th0":410,"th1":710,"th2":930,"th3":1300,"th0123":2900},
{"t":35.0,"th0":600,"th1":390,"th2":580,"th3":880,"th0123":3400},
{"t":35.2,"th0":460,"th1":620,"th2":800,"th3":1560,"th0123":2400},
{"t":35.4,"th0":720,"th1":460,"th2":1040,"th3":1110,"th0123":3100},
{"t":35.6,"th0":320,"th1":680,"th2":680,"th3":1400,"th0123":2800},
{"t":35.8,"th0":580,"th1":350,"th2":900,"th3":1040,"th0123":3600},
{"t":36.0,"th0":470,"th1":600,"th2":1020,"th3":1210,"th0123":3000},
{"t":36.2,"th0":660,"th1":340,"th2":640,"th3":1560,"th0123":2700},
{"t":36.4,"th0":300,"th1":690,"th2":900,"th3":1040,"th0123":3500},
{"t":36.6,"th0":590,"th1":450,"th2":730,"th3":1430,"th0123":2500},
{"t":36.8,"th0":720,"th1":580,"th2":590,"th3":1120,"th0123":3200},
{"t":37.0,"th0":380,"th1":300,"th2":980,"th3":1600,"th0123":2800},
{"t":37.2,"th0":540,"th1":660,"th2":700,"th3":950,"th0123":3300},
{"t":37.4,"th0":640,"th1":500,"th2":860,"th3":1320,"th0123":2600},
{"t":37.6,"th0":410,"th1":370,"th2":1030,"th3":1180,"th0123":3100},
{"t":37.8,"th0":700,"th1":620,"th2":620,"th3":1470,"th0123":2400},
{"t":38.0,"th0":630,"th1":350,"th2":760,"th3":1480,"th0123":2800},
{"t":38.2,"th0":390,"th1":620,"th2":940,"th3":1060,"th0123":3300},
{"t":38.4,"th0":560,"th1":480,"th2":600,"th3":1350,"th0123":2600},
{"t":38.6,"th0":300,"th1":710,"th2":1010,"th3":910,"th0123":3100},
{"t":38.8,"th0":670,"th1":400,"th2":680,"th3":1520,"th0123":2400},
{"t":39.0,"th0":500,"th1":590,"th2":870,"th3":1230,"th0123":3600},
{"t":39.2,"th0":720,"th1":330,"th2":560,"th3":1390,"th0123":2900},
{"t":39.4,"th0":360,"th1":650,"th2":920,"th3":1000,"th0123":2700},
{"t":39.6,"th0":600,"th1":520,"th2":720,"th3":1290,"th0123":3000},
{"t":39.8,"th0":450,"th1":680,"th2":990,"th3":1130,"th0123":3400},
{"t":40.0,"th0":560,"th1":710,"th2":640,"th3":1000,"th0123":3200},
{"t":40.2,"th0":330,"th1":460,"th2":860,"th3":1390,"th0123":2500},
{"t":40.4,"th0":680,"th1":560,"th2":1040,"th3":1200,"th0123":3000},
{"t":40.6,"th0":420,"th1":320,"th2":700,"th3":1550,"th0123":2800},
{"t":40.8,"th0":600,"th1":640,"th2":950,"th3":1080,"th0123":3400},
{"t":41.0,"th0":710,"th1":390,"th2":580,"th3":1450,"th0123":2600},
{"t":41.2,"th0":310,"th1":690,"th2":820,"th3":1160,"th0123":3100},
{"t":41.4,"th0":540,"th1":450,"th2":1000,"th3":870,"th0123":2400},
{"t":41.6,"th0":650,"th1":580,"th2":660,"th3":1330,"th0123":3300},
{"t":41.8,"th0":400,"th1":300,"th2":880,"th3":1500,"th0123":2700},
{"t":42.0,"th0":300,"th1":520,"th2":930,"th3":1270,"th0123":2900},
{"t":42.2,"th0":640,"th1":650,"th2":620,"th3":1580,"th0123":3400},
{"t":42.4,"th0":480,"th1":380,"th2":880,"th3":1030,"th0123":2700},
{"t":42.6,"th0":560,"th1":700,"th2":760,"th3":1340,"th0123":3100},
{"t":42.8,"th0":710,"th1":460,"th2":1020,"th3":960,"th0123":2500},
{"t":43.0,"th0":380,"th1":600,"th2":600,"th3":1480,"th0123":3500},
{"t":43.2,"th0":600,"th1":340,"th2":900,"th3":1200,"th0123":2800},
{"t":43.4,"th0":450,"th1":560,"th2":690,"th3":1560,"th0123":3000},
{"t":43.6,"th0":690,"th1":710,"th2":1050,"th3":1090,"th0123":2600},
{"t":43.8,"th0":330,"th1":410,"th2":740,"th3":1380,"th0123":3300},
{"t":44.0,"th0":540,"th1":680,"th2":700,"th3":1430,"th0123":3100},
{"t":44.2,"th0":700,"th1":390,"th2":980,"th3":1120,"th0123":2600},
{"t":44.4,"th0":370,"th1":590,"th2":610,"th3":1290,"th0123":3300},
{"t":44.6,"th0":620,"th1":300,"th2":850,"th3":1570,"th0123":2900},
{"t":44.8,"th0":450,"th1":650,"th2":700,"th3":920,"th0123":2400},
{"t":45.0,"th0":580,"th1":480,"th2":1030,"th3":1360,"th0123":3200},
{"t":45.2,"th0":320,"th1":700,"th2":580,"th3":1060,"th0123":2700},
{"t":45.4,"th0":660,"th1":360,"th2":920,"th3":1460,"th0123":3500},
{"t":45.6,"th0":510,"th1":620,"th2":760,"th3":1210,"th0123":2800},
{"t":45.8,"th0":720,"th1":450,"th2":640,"th3":980,"th0123":3000},
{"t":46.0,"th0":420,"th1":470,"th2":1010,"th3":1160,"th0123":2700},
{"t":46.2,"th0":600,"th1":620,"th2":660,"th3":1510,"th0123":3300},
{"t":46.4,"th0":690,"th1":330,"th2":900,"th3":1000,"th0123":2500},
{"t":46.6,"th0":330,"th1":560,"th2":740,"th3":1400,"th0123":3000},
{"t":46.8,"th0":560,"th1":690,"th2":570,"th3":1250,"th0123":3400},
{"t":47.0,"th0":470,"th1":410,"th2":960,"th3":870,"th0123":2800},
{"t":47.2,"th0":710,"th1":600,"th2":680,"th3":1470,"th0123":3100},
{"t":47.4,"th0":380,"th1":300,"th2":1040,"th3":1130,"th0123":2600},
{"t":47.6,"th0":640,"th1":650,"th2":620,"th3":1330,"th0123":3500},
{"t":47.8,"th0":500,"th1":520,"th2":850,"th3":1580,"th0123":2900},
{"t":48.0,"th0":650,"th1":350,"th2":600,"th3":1370,"th0123":3000},
{"t":48.2,"th0":300,"th1":680,"th2":880,"th3":1040,"th0123":2500},
{"t":48.4,"th0":570,"th1":500,"th2":740,"th3":1550,"th0123":3200},
{"t":48.6,"th0":480,"th1":610,"th2":1000,"th3":1200,"th0123":2800},
{"t":48.8,"th0":720,"th1":390,"th2":650,"th3":1450,"th0123":2600},
{"t":49.0,"th0":390,"th1":720,"th2":920,"th3":970,"th0123":3400},
{"t":49.2,"th0":620,"th1":450,"th2":560,"th3":1290,"th0123":2900},
{"t":49.4,"th0":460,"th1":580,"th2":810,"th3":1600,"th0123":3100},
{"t":49.6,"th0":690,"th1":330,"th2":970,"th3":1100,"th0123":2400},
{"t":49.8,"th0":350,"th1":640,"th2":700,"th3":1340,"th0123":3300},
{"t":50.0,"th0":500,"th1":600,"th2":860,"th3":1020,"th0123":2800},
{"t":50.2,"th0":640,"th1":450,"th2":1030,"th3":1430,"th0123":3300},
{"t":50.4,"th0":360,"th1":690,"th2":640,"th3":1170,"th0123":2600},
{"t":50.6,"th0":590,"th1":370,"th2":900,"th3":1540,"th0123":3500},
{"t":50.8,"th0":440,"th1":560,"th2":720,"th3":1080,"th0123":2700},
{"t":51.0,"th0":700,"th1":310,"th2":590,"th3":1390,"th0123":3000},
{"t":51.2,"th0":330,"th1":650,"th2":990,"th3":910,"th0123":2500},
{"t":51.4,"th0":560,"th1":480,"th2":680,"th3":1260,"th0123":3200},
{"t":51.6,"th0":670,"th1":720,"th2":840,"th3":1480,"th0123":2900},
{"t":51.8,"th0":410,"th1":400,"th2":1000,"th3":1130,"th0123":3100},
{"t":52.0,"th0":600,"th1":500,"th2":710,"th3":1330,"th0123":2600},
{"t":52.2,"th0":380,"th1":700,"th2":950,"th3":1000,"th0123":3100},
{"t":52.4,"th0":700,"th1":340,"th2":600,"th3":1470,"th0123":2900},
{"t":52.6,"th0":460,"th1":620,"th2":860,"th3":1150,"th0123":2400},
{"t":52.8,"th0":550,"th1":450,"th2":1010,"th3":1580,"th0123":3400},
{"t":53.0,"th0":310,"th1":680,"th2":660,"th3":1050,"th0123":2800},
{"t":53.2,"th0":680,"th1":380,"th2":900,"th3":1410,"th0123":3200},
{"t":53.4,"th0":420,"th1":590,"th2":740,"th3":940,"th0123":2700},
{"t":53.6,"th0":610,"th1":310,"th2":1040,"th3":1290,"th0123":3500},
{"t":53.8,"th0":530,"th1":660,"th2":620,"th3":1500,"th0123":2900},
{"t":54.0,"th0":470,"th1":620,"th2":900,"th3":1180,"th0123":3000},
{"t":54.2,"th0":650,"th1":390,"th2":640,"th3":1520,"th0123":2700},
{"t":54.4,"th0":320,"th1":560,"th2":980,"th3":1060,"th0123":3300},
{"t":54.6,"th0":590,"th1":700,"th2":720,"th3":1370,"th0123":2500},
{"t":54.8,"th0":710,"th1":430,"th2":830,"th3":960,"th0123":3100},
{"t":55.0,"th0":400,"th1":600,"th2":1040,"th3":1440,"th0123":2800},
{"t":55.2,"th0":560,"th1":330,"th2":600,"th3":1230,"th0123":3400},
{"t":55.4,"th0":680,"th1":540,"th2":880,"th3":1010,"th0123":2600},
{"t":55.6,"th0":350,"th1":660,"th2":700,"th3":1350,"th0123":2900}
]},
"vconcat": [
{
  "width": 600, "height": 89.5,
  "title": {"text": "ae403007010_20081030083551_wam2_bst_4band_nobin.qdp", "anchor": "start", "frame": "group", "font": "Liberation Sans", "fontSize": 15.5, "fontWeight": "normal", "color": "#000", "baseline": "alphabetic", "offset": -13},
  "layer": [
    {"data": {"name": "lc"},
     "mark": {"type": "line", "color": "#ff0000", "strokeWidth": 1.6, "clip": true},
     "encoding": {
       "x": {"field": "t", "type": "quantitative", "scale": {"domain": [-9.5, 56.9], "nice": false, "zero": false},
             "axis": {"orient": "bottom", "values": [-8,-6,-4,-2,0,2,4,6,8,10,12,14,16,18,20,22,24,26,28,30,32,34,36,38,40,42,44,46,48,50,52,54,56], "labels": false, "title": null, "tickSize": {"condition": {"test": "datum.value % 10 === 0", "value": -8}, "value": -4}}},
       "y": {"field": "th0", "type": "quantitative", "scale": {"domain": [-35, 1242], "nice": false, "zero": false},
             "axis": {"orient": "left", "values": [0,100,200,300,400,500,600,700,800,900,1000,1100,1200], "format": "d", "labelExpr": "datum.value % 500 === 0 ? datum.label : ''", "labelPadding": 19, "title": null, "tickSize": {"condition": {"test": "datum.value % 500 === 0", "value": -8}, "value": -4}}}
     }},
    {"data": {"values": [{"label": "TH0"}]},
     "mark": {"type": "text", "align": "right", "baseline": "alphabetic", "dx": -4, "dy": 15.5, "fontSize": 16, "font": "Liberation Sans", "color": "#000"},
     "encoding": {
       "x": {"datum": 56.9, "type": "quantitative", "axis": {"orient": "top", "values": [-8,-6,-4,-2,0,2,4,6,8,10,12,14,16,18,20,22,24,26,28,30,32,34,36,38,40,42,44,46,48,50,52,54,56], "labels": false, "title": null, "tickSize": {"condition": {"test": "datum.value % 10 === 0", "value": -8}, "value": -4}}},
       "y": {"datum": 1242, "type": "quantitative", "axis": {"orient": "right", "values": [0,100,200,300,400,500,600,700,800,900,1000,1100,1200], "labels": false, "title": null, "tickSize": {"condition": {"test": "datum.value % 500 === 0", "value": -8}, "value": -4}}},
       "text": {"field": "label"}
     }}
  ],
  "resolve": {"axis": {"x": "independent", "y": "independent"}}
},
{
  "width": 600, "height": 89.5,
  "layer": [
    {"data": {"name": "lc"},
     "mark": {"type": "line", "color": "#00ff00", "strokeWidth": 1.6, "clip": true},
     "encoding": {
       "x": {"field": "t", "type": "quantitative", "scale": {"domain": [-9.5, 56.9], "nice": false, "zero": false},
             "axis": {"orient": "bottom", "values": [-8,-6,-4,-2,0,2,4,6,8,10,12,14,16,18,20,22,24,26,28,30,32,34,36,38,40,42,44,46,48,50,52,54,56], "labels": false, "title": null, "tickSize": {"condition": {"test": "datum.value % 10 === 0", "value": -8}, "value": -4}}},
       "y": {"field": "th1", "type": "quantitative", "scale": {"domain": [-50, 1250], "nice": false, "zero": false},
             "axis": {"orient": "left", "values": [0,100,200,300,400,500,600,700,800,900,1000,1100,1200], "format": "d", "labelExpr": "datum.value % 500 === 0 ? datum.label : ''", "labelPadding": 19, "title": null, "tickSize": {"condition": {"test": "datum.value % 500 === 0", "value": -8}, "value": -4}}}
     }},
    {"data": {"values": [{"label": "TH1"}]},
     "mark": {"type": "text", "align": "right", "baseline": "alphabetic", "dx": -4, "dy": 15.5, "fontSize": 16, "font": "Liberation Sans", "color": "#000"},
     "encoding": {
       "x": {"datum": 56.9, "type": "quantitative", "axis": {"orient": "top", "values": [-8,-6,-4,-2,0,2,4,6,8,10,12,14,16,18,20,22,24,26,28,30,32,34,36,38,40,42,44,46,48,50,52,54,56], "labels": false, "title": null, "tickSize": {"condition": {"test": "datum.value % 10 === 0", "value": -8}, "value": -4}}},
       "y": {"datum": 1250, "type": "quantitative", "axis": {"orient": "right", "values": [0,100,200,300,400,500,600,700,800,900,1000,1100,1200], "labels": false, "title": null, "tickSize": {"condition": {"test": "datum.value % 500 === 0", "value": -8}, "value": -4}}},
       "text": {"field": "label"}
     }}
  ],
  "resolve": {"axis": {"x": "independent", "y": "independent"}}
},
{
  "width": 600, "height": 89.5,
  "layer": [
    {"data": {"name": "lc"},
     "mark": {"type": "line", "color": "#0000ff", "strokeWidth": 1.6, "clip": true},
     "encoding": {
       "x": {"field": "t", "type": "quantitative", "scale": {"domain": [-9.5, 56.9], "nice": false, "zero": false},
             "axis": {"orient": "bottom", "values": [-8,-6,-4,-2,0,2,4,6,8,10,12,14,16,18,20,22,24,26,28,30,32,34,36,38,40,42,44,46,48,50,52,54,56], "labels": false, "title": null, "tickSize": {"condition": {"test": "datum.value % 10 === 0", "value": -8}, "value": -4}}},
       "y": {"field": "th2", "type": "quantitative", "scale": {"domain": [10, 1830], "nice": false, "zero": false},
             "axis": {"orient": "left", "values": [100,200,300,400,500,600,700,800,900,1000,1100,1200,1300,1400,1500,1600,1700,1800], "format": "d", "labelExpr": "datum.value % 500 === 0 ? datum.label : ''", "labelPadding": 19, "title": "Counts/sec", "titleX": -61, "titleY": 40.75, "titleAngle": -90, "titleAlign": "center", "titleBaseline": "alphabetic", "tickSize": {"condition": {"test": "datum.value % 500 === 0", "value": -8}, "value": -4}}}
     }},
    {"data": {"values": [{"label": "TH2"}]},
     "mark": {"type": "text", "align": "right", "baseline": "alphabetic", "dx": -4, "dy": 15.5, "fontSize": 16, "font": "Liberation Sans", "color": "#000"},
     "encoding": {
       "x": {"datum": 56.9, "type": "quantitative", "axis": {"orient": "top", "values": [-8,-6,-4,-2,0,2,4,6,8,10,12,14,16,18,20,22,24,26,28,30,32,34,36,38,40,42,44,46,48,50,52,54,56], "labels": false, "title": null, "tickSize": {"condition": {"test": "datum.value % 10 === 0", "value": -8}, "value": -4}}},
       "y": {"datum": 1830, "type": "quantitative", "axis": {"orient": "right", "values": [100,200,300,400,500,600,700,800,900,1000,1100,1200,1300,1400,1500,1600,1700,1800], "labels": false, "title": null, "tickSize": {"condition": {"test": "datum.value % 500 === 0", "value": -8}, "value": -4}}},
       "text": {"field": "label"}
     }}
  ],
  "resolve": {"axis": {"x": "independent", "y": "independent"}}
},
{
  "width": 600, "height": 89.5,
  "layer": [
    {"data": {"name": "lc"},
     "mark": {"type": "line", "color": "#00ffff", "strokeWidth": 1.6, "clip": true},
     "encoding": {
       "x": {"field": "t", "type": "quantitative", "scale": {"domain": [-9.5, 56.9], "nice": false, "zero": false},
             "axis": {"orient": "bottom", "values": [-8,-6,-4,-2,0,2,4,6,8,10,12,14,16,18,20,22,24,26,28,30,32,34,36,38,40,42,44,46,48,50,52,54,56], "labels": false, "title": null, "tickSize": {"condition": {"test": "datum.value % 10 === 0", "value": -8}, "value": -4}}},
       "y": {"field": "th3", "type": "quantitative", "scale": {"domain": [155, 2472], "nice": false, "zero": false},
             "axis": {"orient": "left", "values": [200,300,400,500,600,700,800,900,1000,1100,1200,1300,1400,1500,1600,1700,1800,1900,2000,2100,2200,2300,2400], "format": "d", "labelExpr": "datum.value % 500 === 0 ? datum.label : ''", "labelPadding": 19, "title": null, "tickSize": {"condition": {"test": "datum.value % 500 === 0", "value": -8}, "value": -4}}}
     }},
    {"data": {"values": [{"label": "TH3"}]},
     "mark": {"type": "text", "align": "right", "baseline": "alphabetic", "dx": -4, "dy": 15.5, "fontSize": 16, "font": "Liberation Sans", "color": "#000"},
     "encoding": {
       "x": {"datum": 56.9, "type": "quantitative", "axis": {"orient": "top", "values": [-8,-6,-4,-2,0,2,4,6,8,10,12,14,16,18,20,22,24,26,28,30,32,34,36,38,40,42,44,46,48,50,52,54,56], "labels": false, "title": null, "tickSize": {"condition": {"test": "datum.value % 10 === 0", "value": -8}, "value": -4}}},
       "y": {"datum": 2472, "type": "quantitative", "axis": {"orient": "right", "values": [200,300,400,500,600,700,800,900,1000,1100,1200,1300,1400,1500,1600,1700,1800,1900,2000,2100,2200,2300,2400], "labels": false, "title": null, "tickSize": {"condition": {"test": "datum.value % 500 === 0", "value": -8}, "value": -4}}},
       "text": {"field": "label"}
     }}
  ],
  "resolve": {"axis": {"x": "independent", "y": "independent"}}
},
{
  "width": 600, "height": 89.5,
  "layer": [
    {"data": {"name": "lc"},
     "mark": {"type": "line", "color": "#ff00ff", "strokeWidth": 1.6, "clip": true},
     "encoding": {
       "x": {"field": "t", "type": "quantitative", "scale": {"domain": [-9.5, 56.9], "nice": false, "zero": false},
             "axis": {"orient": "bottom", "values": [-8,-6,-4,-2,0,2,4,6,8,10,12,14,16,18,20,22,24,26,28,30,32,34,36,38,40,42,44,46,48,50,52,54,56], "format": "d", "labelExpr": "datum.value % 10 === 0 ? datum.label : ''", "labelPadding": 12, "title": "Time [sec] 0 = 2008/10/30 08:35:51.463", "titleX": 300, "titleY": 32.7, "titleAlign": "center", "titleBaseline": "alphabetic", "tickSize": {"condition": {"test": "datum.value % 10 === 0", "value": -8}, "value": -4}}},
       "y": {"field": "th0123", "type": "quantitative", "scale": {"domain": [1356, 4909], "nice": false, "zero": false},
             "axis": {"orient": "left", "values": [1400,1600,1800,2000,2200,2400,2600,2800,3000,3200,3400,3600,3800,4000,4200,4400,4600,4800], "format": "d", "labelExpr": "datum.value % 1000 === 0 ? datum.label : ''", "labelPadding": 19, "title": null, "tickSize": {"condition": {"test": "datum.value % 1000 === 0", "value": -8}, "value": -4}}}
     }},
    {"data": {"values": [{"label": "TH0123"}]},
     "mark": {"type": "text", "align": "right", "baseline": "alphabetic", "dx": -1, "dy": 15.5, "fontSize": 16, "font": "Liberation Sans", "color": "#000"},
     "encoding": {
       "x": {"datum": 56.9, "type": "quantitative", "axis": {"orient": "top", "values": [-8,-6,-4,-2,0,2,4,6,8,10,12,14,16,18,20,22,24,26,28,30,32,34,36,38,40,42,44,46,48,50,52,54,56], "labels": false, "title": null, "tickSize": {"condition": {"test": "datum.value % 10 === 0", "value": -8}, "value": -4}}},
       "y": {"datum": 4909, "type": "quantitative", "axis": {"orient": "right", "values": [1400,1600,1800,2000,2200,2400,2600,2800,3000,3200,3400,3600,3800,4000,4200,4400,4600,4800], "labels": false, "title": null, "tickSize": {"condition": {"test": "datum.value % 1000 === 0", "value": -8}, "value": -4}}},
       "text": {"field": "label"}
     }}
  ],
  "resolve": {"axis": {"x": "independent", "y": "independent"}}
}
]
}
